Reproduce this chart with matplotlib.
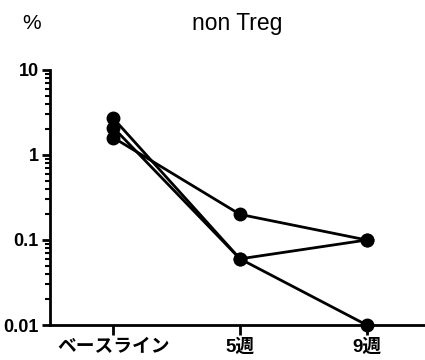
import matplotlib.pyplot as plt
import numpy as np

# data
categories = ['ベースライン', '5週', '9週']
subject_a = [1.6, 0.2, 0.1]
subject_b = [2.1, 0.06, 0.1]
subject_c = [2.7, 0.06, 0.01]
y_ticks = [0.01, 0.1, 1, 10]
y_tick_labels = ['0.01', '0.1', '1', '10']

fonts = ['Liberation Sans', 'Noto Sans CJK JP', 'DejaVu Sans']
plt.rcParams['font.family'] = fonts

fig = plt.figure(figsize=(4.25, 3.6), dpi=100)
ax = fig.add_axes([0.1176, 0.0972, 0.8824, 0.7084])

x = np.arange(len(categories))
for s in [subject_a, subject_b, subject_c]:
    ax.plot(x, s, '-o', color='black', lw=2, markersize=9, clip_on=False, zorder=3)

ax.set_yscale('log')
ax.set_ylim(0.01, 10)
ax.set_xlim(-0.5, 2.46)
ax.set_yticks(y_ticks)
ax.set_yticklabels(y_tick_labels, fontsize=13, fontweight='bold')
ax.set_xticks(x)
ax.set_xticklabels(categories, fontsize=13.5, fontweight='bold')

for side in ['top', 'right']:
    ax.spines[side].set_visible(False)
for side in ['left', 'bottom']:
    ax.spines[side].set_linewidth(2)

ax.tick_params(axis='both', which='major', length=6, width=2, pad=2)
ax.tick_params(axis='x', which='major', length=7, pad=3)
ax.tick_params(axis='y', which='minor', length=3.5, width=1.5)

fig.text(0.557, 0.935, 'non Treg', ha='center', va='center', fontsize=16.5)
fig.text(0.075, 0.935, '%', ha='center', va='center', fontsize=15)

fig.savefig('out.png', dpi=100)
